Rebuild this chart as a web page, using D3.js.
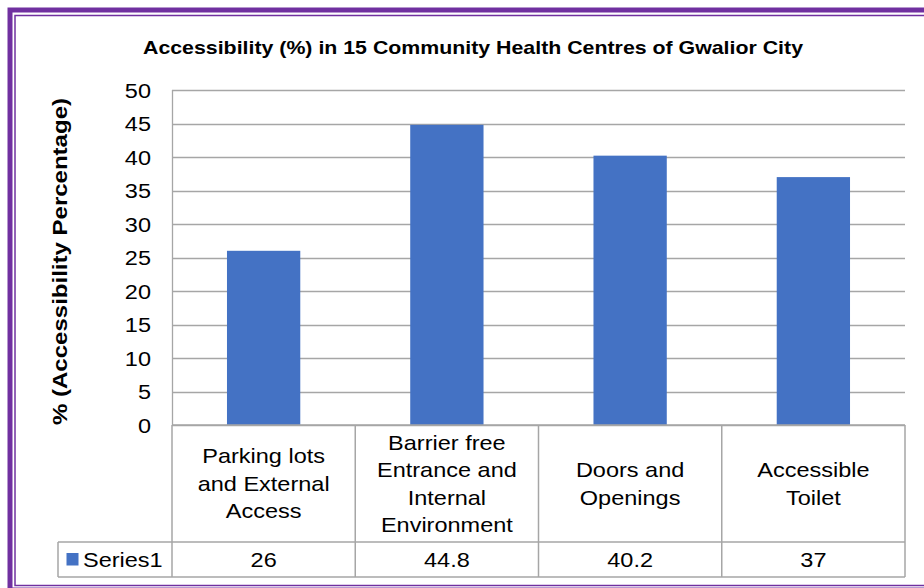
<!DOCTYPE html>
<html><head><meta charset="utf-8">
<script src="https://cdn.jsdelivr.net/npm/d3@7"></script>
<style>html,body{margin:0;padding:0;background:#fff;}svg{display:block;font-family:"Liberation Sans",Arial,sans-serif;}</style>
</head><body>
<svg id="c" width="924" height="588"></svg>
<script>
const categories = [["Parking lots","and External","Access"],["Barrier free","Entrance and","Internal","Environment"],["Doors and","Openings"],["Accessible","Toilet"]];
const values = [26, 44.8, 40.2, 37];
const valueLabels = ["26","44.8","40.2","37"];
const seriesName = "Series1";
const yTicks = [0,5,10,15,20,25,30,35,40,45,50];
const title = "Accessibility (%) in 15 Community Health Centres of Gwalior City";
const yLabel = "% (Accessibility Percentage)";

const svg = d3.select("#c");
const purple = "#7030A0", grid = "#a6a6a6", blue = "#4472C4";
const FS = 21, SX = 1.12;

// border
svg.append("rect").attr("x",10).attr("y",10).attr("width",930).attr("height",580).attr("fill","none").attr("stroke",purple).attr("stroke-width",5);
svg.append("rect").attr("x",15).attr("y",15.5).attr("width",920).attr("height",570).attr("fill","none").attr("stroke",purple).attr("stroke-width",1.5);

const L=172, R=905, T=90, B=425;
const x = d3.scaleBand().domain(d3.range(categories.length)).range([L,R]).paddingInner(0).paddingOuter(0);
const y = d3.scaleLinear().domain([0,50]).range([B,T]);

svg.append("text").attr("x",473).attr("y",54).attr("text-anchor","middle").attr("font-weight","bold").attr("font-size",19)
  .attr("textLength",660).attr("lengthAdjust","spacingAndGlyphs").text(title);

// grid
svg.append("g").selectAll("line").data(yTicks).join("line")
  .attr("x1",L).attr("x2",R).attr("y1",d=>Math.round(y(d))+0.5).attr("y2",d=>Math.round(y(d))+0.5)
  .attr("stroke",grid).attr("stroke-width",1.3);
svg.append("line").attr("x1",L+0.5).attr("x2",L+0.5).attr("y1",T).attr("y2",B).attr("stroke",grid).attr("stroke-width",1.3);

// y axis labels
const ya = svg.append("g").attr("transform",`translate(${151},0)`).call(d3.axisLeft(y).tickValues(yTicks).tickSize(0).tickPadding(0));
ya.select(".domain").remove();
ya.selectAll(".tick text").each(function(){
  d3.select(this).attr("x",null).attr("font-size",FS).attr("font-family","Liberation Sans, Arial, sans-serif")
    .attr("fill","#000").attr("dy","0.35em").attr("transform",`scale(${SX},1)`);
});

svg.append("text").attr("transform",`translate(67,261.5) rotate(-90)`).attr("text-anchor","middle").attr("font-weight","bold").attr("font-size",20)
  .attr("textLength",327).attr("lengthAdjust","spacingAndGlyphs").text(yLabel);

// bars
const bw = x.bandwidth()*0.4;
svg.append("g").selectAll("rect").data(values).join("rect")
  .attr("x",(d,i)=>x(i)+x.bandwidth()/2-bw/2).attr("width",bw)
  .attr("y",d=>y(d)).attr("height",d=>y(0)-y(d)).attr("fill",blue);

// table
const tb1 = 542, tb2 = 577, tL = 58;
const tg = svg.append("g").attr("stroke",grid).attr("stroke-width",1.5);
tg.append("line").attr("x1",L).attr("x2",R).attr("y1",B).attr("y2",B);
tg.append("line").attr("x1",tL).attr("x2",R).attr("y1",tb1).attr("y2",tb1);
tg.append("line").attr("x1",tL).attr("x2",R).attr("y1",tb2).attr("y2",tb2);
tg.append("line").attr("x1",tL).attr("x2",tL).attr("y1",tb1).attr("y2",tb2);
const cols = d3.range(categories.length+1).map(i=> i<categories.length ? x(i) : R);
tg.selectAll("line.v").data(cols).join("line").attr("class","v")
  .attr("x1",d=>d).attr("x2",d=>d).attr("y1",B).attr("y2",tb2);

// category labels
const lh = 27.5;
categories.forEach((lines,i)=>{
  const cx = x(i)+x.bandwidth()/2, cy=(B+tb1)/2;
  const t = svg.append("text").attr("text-anchor","middle").attr("font-size",FS)
    .attr("transform",`translate(${cx},${cy}) scale(${SX},1)`);
  lines.forEach((s,j)=>{
    t.append("tspan").attr("x",0).attr("y",(j-(lines.length-1)/2)*lh).attr("dy","0.35em").text(s);
  });
});
// values
valueLabels.forEach((v,i)=>{
  svg.append("text").attr("transform",`translate(${x(i)+x.bandwidth()/2},${(tb1+tb2)/2}) scale(${SX},1)`)
    .attr("dy","0.35em").attr("text-anchor","middle").attr("font-size",FS).text(v);
});
svg.append("rect").attr("x",66.5).attr("y",553).attr("width",12).attr("height",12.5).attr("fill",blue);
svg.append("text").attr("transform",`translate(83,${(tb1+tb2)/2}) scale(${SX},1)`).attr("dy","0.35em").attr("font-size",FS).text(seriesName);
</script>
</body></html>
